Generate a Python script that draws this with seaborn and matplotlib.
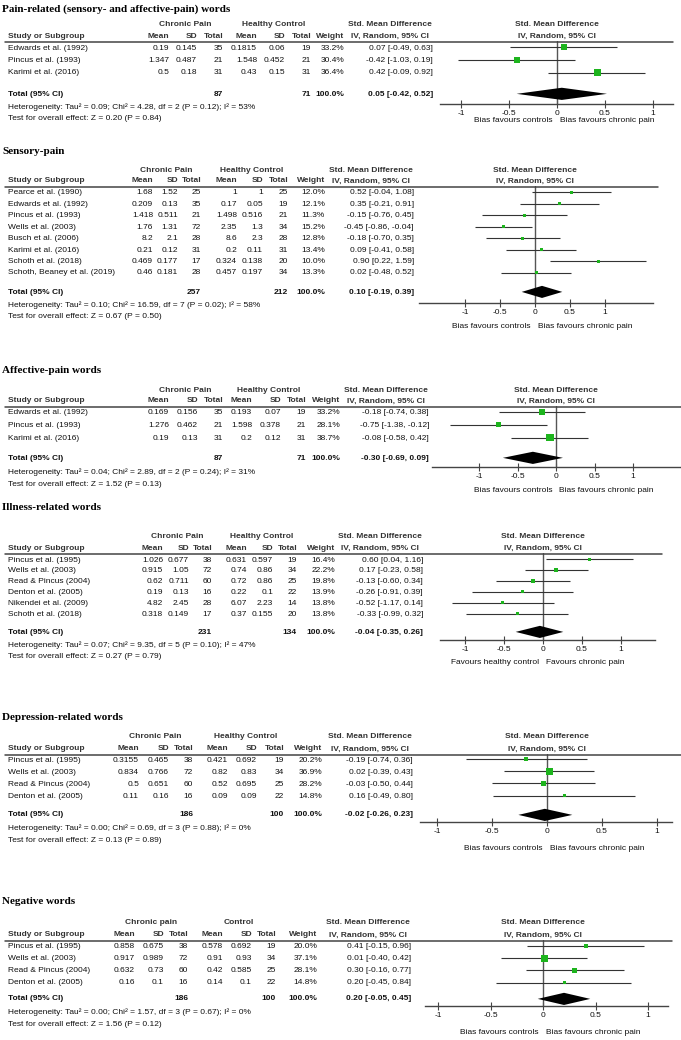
import numpy as np
import seaborn as sns
import matplotlib.pyplot as plt
from matplotlib.lines import Line2D

W, H = 681, 1040

# ---------------- data ----------------
# 1. pain-related words
PAIN_STUDY = ["Edwards et al. (1992)", "Pincus et al. (1993)", "Karimi et al. (2016)"]
PAIN_CP_MEAN = ["0.19", "1.347", "0.5"]
PAIN_CP_SD = ["0.145", "0.487", "0.18"]
PAIN_CP_N = [35, 21, 31]
PAIN_HC_MEAN = ["0.1815", "1.548", "0.43"]
PAIN_HC_SD = ["0.06", "0.452", "0.15"]
PAIN_HC_N = [19, 21, 31]
PAIN_WEIGHT = [33.2, 30.4, 36.4]
PAIN_SMD = [0.07, -0.42, 0.42]
PAIN_LO = [-0.49, -1.03, -0.09]
PAIN_HI = [0.63, 0.19, 0.92]
PAIN_TOTAL = [0.05, -0.42, 0.52]
PAIN_N_TOTAL = [87, 71]
PAIN_HET = "Heterogeneity: Tau\u00b2 = 0.09; Chi\u00b2 = 4.28, df = 2 (P = 0.12); I\u00b2 = 53%"
PAIN_TEST = "Test for overall effect: Z = 0.20 (P = 0.84)"

# 2. sensory-pain
SENS_STUDY = ["Pearce et al. (1990)", "Edwards et al. (1992)", "Pincus et al. (1993)",
              "Wells et al. (2003)", "Busch et al. (2006)", "Karimi et al. (2016)",
              "Schoth et al. (2018)", "Schoth, Beaney et al. (2019)"]
SENS_CP_MEAN = ["1.68", "0.209", "1.418", "1.76", "8.2", "0.21", "0.469", "0.46"]
SENS_CP_SD = ["1.52", "0.13", "0.511", "1.31", "2.1", "0.12", "0.177", "0.181"]
SENS_CP_N = [25, 35, 21, 72, 28, 31, 17, 28]
SENS_HC_MEAN = ["1", "0.17", "1.498", "2.35", "8.6", "0.2", "0.324", "0.457"]
SENS_HC_SD = ["1", "0.05", "0.516", "1.3", "2.3", "0.11", "0.138", "0.197"]
SENS_HC_N = [25, 19, 21, 34, 28, 31, 20, 34]
SENS_WEIGHT = [12.0, 12.1, 11.3, 15.2, 12.8, 13.4, 10.0, 13.3]
SENS_SMD = [0.52, 0.35, -0.15, -0.45, -0.18, 0.09, 0.90, 0.02]
SENS_LO = [-0.04, -0.21, -0.76, -0.86, -0.70, -0.41, 0.22, -0.48]
SENS_HI = [1.08, 0.91, 0.45, -0.04, 0.35, 0.58, 1.59, 0.52]
SENS_TOTAL = [0.10, -0.19, 0.39]
SENS_N_TOTAL = [257, 212]
SENS_HET = "Heterogeneity: Tau\u00b2 = 0.10; Chi\u00b2 = 16.59, df = 7 (P = 0.02); I\u00b2 = 58%"
SENS_TEST = "Test for overall effect: Z = 0.67 (P = 0.50)"

# 3. affective-pain words
AFF_STUDY = ["Edwards et al. (1992)", "Pincus et al. (1993)", "Karimi et al. (2016)"]
AFF_CP_MEAN = ["0.169", "1.276", "0.19"]
AFF_CP_SD = ["0.156", "0.462", "0.13"]
AFF_CP_N = [35, 21, 31]
AFF_HC_MEAN = ["0.193", "1.598", "0.2"]
AFF_HC_SD = ["0.07", "0.378", "0.12"]
AFF_HC_N = [19, 21, 31]
AFF_WEIGHT = [33.2, 28.1, 38.7]
AFF_SMD = [-0.18, -0.75, -0.08]
AFF_LO = [-0.74, -1.38, -0.58]
AFF_HI = [0.38, -0.12, 0.42]
AFF_TOTAL = [-0.30, -0.69, 0.09]
AFF_N_TOTAL = [87, 71]
AFF_HET = "Heterogeneity: Tau\u00b2 = 0.04; Chi\u00b2 = 2.89, df = 2 (P = 0.24); I\u00b2 = 31%"
AFF_TEST = "Test for overall effect: Z = 1.52 (P = 0.13)"

# 4. illness-related words
ILL_STUDY = ["Pincus et al. (1995)", "Wells et al. (2003)", "Read & Pincus (2004)",
             "Denton et al. (2005)", "Nikendei et al. (2009)", "Schoth et al. (2018)"]
ILL_CP_MEAN = ["1.026", "0.915", "0.62", "0.19", "4.82", "0.318"]
ILL_CP_SD = ["0.677", "1.05", "0.711", "0.13", "2.45", "0.149"]
ILL_CP_N = [38, 72, 60, 16, 28, 17]
ILL_HC_MEAN = ["0.631", "0.74", "0.72", "0.22", "6.07", "0.37"]
ILL_HC_SD = ["0.597", "0.86", "0.86", "0.1", "2.23", "0.155"]
ILL_HC_N = [19, 34, 25, 22, 14, 20]
ILL_WEIGHT = [16.4, 22.2, 19.8, 13.9, 13.8, 13.8]
ILL_SMD = [0.60, 0.17, -0.13, -0.26, -0.52, -0.33]
ILL_LO = [0.04, -0.23, -0.60, -0.91, -1.17, -0.99]
ILL_HI = [1.16, 0.58, 0.34, 0.39, 0.14, 0.32]
ILL_TOTAL = [-0.04, -0.35, 0.26]
ILL_N_TOTAL = [231, 134]
ILL_HET = "Heterogeneity: Tau\u00b2 = 0.07; Chi\u00b2 = 9.35, df = 5 (P = 0.10); I\u00b2 = 47%"
ILL_TEST = "Test for overall effect: Z = 0.27 (P = 0.79)"

# 5. depression-related words
DEP_STUDY = ["Pincus et al. (1995)", "Wells et al. (2003)", "Read & Pincus (2004)", "Denton et al. (2005)"]
DEP_CP_MEAN = ["0.3155", "0.834", "0.5", "0.11"]
DEP_CP_SD = ["0.465", "0.766", "0.651", "0.16"]
DEP_CP_N = [38, 72, 60, 16]
DEP_HC_MEAN = ["0.421", "0.82", "0.52", "0.09"]
DEP_HC_SD = ["0.692", "0.83", "0.695", "0.09"]
DEP_HC_N = [19, 34, 25, 22]
DEP_WEIGHT = [20.2, 36.9, 28.2, 14.8]
DEP_SMD = [-0.19, 0.02, -0.03, 0.16]
DEP_LO = [-0.74, -0.39, -0.50, -0.49]
DEP_HI = [0.36, 0.43, 0.44, 0.80]
DEP_TOTAL = [-0.02, -0.26, 0.23]
DEP_N_TOTAL = [186, 100]
DEP_HET = "Heterogeneity: Tau\u00b2 = 0.00; Chi\u00b2 = 0.69, df = 3 (P = 0.88); I\u00b2 = 0%"
DEP_TEST = "Test for overall effect: Z = 0.13 (P = 0.89)"

# 6. negative words
NEG_STUDY = ["Pincus et al. (1995)", "Wells et al. (2003)", "Read & Pincus (2004)", "Denton et al. (2005)"]
NEG_CP_MEAN = ["0.858", "0.917", "0.632", "0.16"]
NEG_CP_SD = ["0.675", "0.989", "0.73", "0.1"]
NEG_CP_N = [38, 72, 60, 16]
NEG_HC_MEAN = ["0.578", "0.91", "0.42", "0.14"]
NEG_HC_SD = ["0.692", "0.93", "0.585", "0.1"]
NEG_HC_N = [19, 34, 25, 22]
NEG_WEIGHT = [20.0, 37.1, 28.1, 14.8]
NEG_SMD = [0.41, 0.01, 0.30, 0.20]
NEG_LO = [-0.15, -0.40, -0.16, -0.45]
NEG_HI = [0.96, 0.42, 0.77, 0.84]
NEG_TOTAL = [0.20, -0.05, 0.45]
NEG_N_TOTAL = [186, 100]
NEG_HET = "Heterogeneity: Tau\u00b2 = 0.00; Chi\u00b2 = 1.57, df = 3 (P = 0.67); I\u00b2 = 0%"
NEG_TEST = "Test for overall effect: Z = 1.56 (P = 0.12)"

TICKS = [-1, -0.5, 0, 0.5, 1]
TICK_LABELS = ["-1", "-0.5", "0", "0.5", "1"]

# ---------------- panels ----------------
def make_panel(title, groups, favours, study, cpm, cpsd, cpn, hcm, hcsd, hcn, wt, smd, lo, hi, tot, ntot, het, test):
    return dict(title=title, groups=groups, favours=favours, study=study,
                cols=[cpm, cpsd, cpn, hcm, hcsd, hcn], weight=wt, smd=smd, lo=lo, hi=hi,
                total=tot, ntot=ntot, het=het, test=test)

BIAS = ("Bias favours controls", "Bias favours chronic pain")
panels = [
    make_panel("Pain-related (sensory- and affective-pain) words", ("Chronic Pain", "Healthy Control"), BIAS,
               PAIN_STUDY, PAIN_CP_MEAN, PAIN_CP_SD, PAIN_CP_N, PAIN_HC_MEAN, PAIN_HC_SD, PAIN_HC_N,
               PAIN_WEIGHT, PAIN_SMD, PAIN_LO, PAIN_HI, PAIN_TOTAL, PAIN_N_TOTAL, PAIN_HET, PAIN_TEST),
    make_panel("Sensory-pain", ("Chronic Pain", "Healthy Control"), BIAS,
               SENS_STUDY, SENS_CP_MEAN, SENS_CP_SD, SENS_CP_N, SENS_HC_MEAN, SENS_HC_SD, SENS_HC_N,
               SENS_WEIGHT, SENS_SMD, SENS_LO, SENS_HI, SENS_TOTAL, SENS_N_TOTAL, SENS_HET, SENS_TEST),
    make_panel("Affective-pain words", ("Chronic Pain", "Healthy Control"), BIAS,
               AFF_STUDY, AFF_CP_MEAN, AFF_CP_SD, AFF_CP_N, AFF_HC_MEAN, AFF_HC_SD, AFF_HC_N,
               AFF_WEIGHT, AFF_SMD, AFF_LO, AFF_HI, AFF_TOTAL, AFF_N_TOTAL, AFF_HET, AFF_TEST),
    make_panel("Illness-related words", ("Chronic Pain", "Healthy Control"),
               ("Favours healthy control", "Favours chronic pain"),
               ILL_STUDY, ILL_CP_MEAN, ILL_CP_SD, ILL_CP_N, ILL_HC_MEAN, ILL_HC_SD, ILL_HC_N,
               ILL_WEIGHT, ILL_SMD, ILL_LO, ILL_HI, ILL_TOTAL, ILL_N_TOTAL, ILL_HET, ILL_TEST),
    make_panel("Depression-related words", ("Chronic Pain", "Healthy Control"), BIAS,
               DEP_STUDY, DEP_CP_MEAN, DEP_CP_SD, DEP_CP_N, DEP_HC_MEAN, DEP_HC_SD, DEP_HC_N,
               DEP_WEIGHT, DEP_SMD, DEP_LO, DEP_HI, DEP_TOTAL, DEP_N_TOTAL, DEP_HET, DEP_TEST),
    make_panel("Negative words", ("Chronic pain", "Control"), BIAS,
               NEG_STUDY, NEG_CP_MEAN, NEG_CP_SD, NEG_CP_N, NEG_HC_MEAN, NEG_HC_SD, NEG_HC_N,
               NEG_WEIGHT, NEG_SMD, NEG_LO, NEG_HI, NEG_TOTAL, NEG_N_TOTAL, NEG_HET, NEG_TEST),
]

# layout in pixels (y from top); cols are right edges of the six numeric columns
layouts = [
    dict(title=9, group=25, head=36, rule=41, row0=48, step=12.5, total=94, het=107, test=119,
         axis=104, fav=121, cols=[169, 197, 223, 257, 285, 311], weight=344, smd=433,
         zero=557, scale=96, ax_x=(440, 673), rule_r=673),
    dict(title=152, group=170, head=181, rule=186, row0=193, step=11.4, total=292, het=305, test=317,
         axis=303, fav=327, cols=[153, 178, 201, 237, 263, 288], weight=325, smd=414,
         zero=535, scale=70, ax_x=(419, 653), rule_r=658),
    dict(title=370, group=390, head=401, rule=406, row0=413, step=12.5, total=458, het=472, test=485,
         axis=467, fav=490, cols=[169, 198, 223, 252, 281, 306], weight=340, smd=429,
         zero=556, scale=77, ax_x=(432, 681), rule_r=681),
    dict(title=508, group=537, head=548, rule=553, row0=560, step=10.8, total=632, het=645, test=657,
         axis=640, fav=663, cols=[163, 189, 212, 247, 273, 297], weight=335, smd=423,
         zero=543, scale=78, ax_x=(440, 655), rule_r=662),
    dict(title=717, group=737, head=749, rule=754, row0=760, step=12, total=815, het=828, test=840,
         axis=822, fav=848, cols=[139, 169, 193, 228, 257, 284], weight=322, smd=413,
         zero=547, scale=110, ax_x=(420, 672), rule_r=681),
    dict(title=902, group=923, head=935, rule=940, row0=947, step=12, total=999, het=1012, test=1024,
         axis=1006, fav=1032, cols=[135, 164, 188, 223, 252, 276], weight=317, smd=411,
         zero=543, scale=105, ax_x=(425, 668), rule_r=672),
]

GREEN = "#1db41d"
TXT = "#111111"
HEAD = "#333333"
FS = 6.0

sns.set_theme(style="white")
plt.rcParams["font.family"] = ["Liberation Sans", "DejaVu Sans"]

fig = plt.figure(figsize=(W / 100, H / 100), dpi=100)


def fx(x):
    return x / W


def fy(y):
    return 1 - y / H


def put(x, y, s, ha="right", bold=False, color=TXT, size=FS):
    fig.text(fx(x), fy(y), s, ha=ha, va="center", fontsize=size, color=color,
             fontweight="bold" if bold else "normal")


for p, L in zip(panels, layouts):
    # title
    fig.text(fx(2), fy(L["title"]), p["title"], ha="left", va="center", fontsize=8,
             family=["Liberation Serif", "DejaVu Serif"], fontweight="bold", color="black")

    c = L["cols"]
    # group headers
    put((c[0] - 21 + c[2]) / 2, L["group"], p["groups"][0], ha="center", bold=True, color=HEAD)
    put((c[3] - 21 + c[5]) / 2, L["group"], p["groups"][1], ha="center", bold=True, color=HEAD)
    put(L["smd"] - 43, L["group"], "Std. Mean Difference", ha="center", bold=True, color=HEAD)
    put(L["zero"], L["group"], "Std. Mean Difference", ha="center", bold=True, color=HEAD)
    # column headers
    put(8, L["head"], "Study or Subgroup", ha="left", bold=True, color=HEAD)
    for x, s in zip(c, ["Mean", "SD", "Total", "Mean", "SD", "Total"]):
        put(x, L["head"], s, bold=True, color=HEAD)
    put(L["weight"], L["head"], "Weight", bold=True, color=HEAD)
    put(L["smd"] - 43, L["head"], "IV, Random, 95% CI", ha="center", bold=True, color=HEAD)
    put(L["zero"], L["head"], "IV, Random, 95% CI", ha="center", bold=True, color=HEAD)
    fig.add_artist(Line2D([fx(5), fx(L["rule_r"])], [fy(L["rule"] + 0.5)] * 2, color="#444444", lw=1.1))

    # study rows
    n = len(p["study"])
    for i in range(n):
        y = L["row0"] + i * L["step"]
        put(8, y, p["study"][i], ha="left")
        for x, col in zip(c, p["cols"]):
            put(x, y, str(col[i]))
        put(L["weight"], y, f"{p['weight'][i]:.1f}%")
        put(L["smd"], y, f"{p['smd'][i]:.2f} [{p['lo'][i]:.2f}, {p['hi'][i]:.2f}]")

    # total row
    t = p["total"]
    put(8, L["total"], "Total (95% CI)", ha="left", bold=True)
    put(c[2], L["total"], str(p["ntot"][0]), bold=True)
    put(c[5], L["total"], str(p["ntot"][1]), bold=True)
    put(L["weight"], L["total"], "100.0%", bold=True)
    put(L["smd"], L["total"], f"{t[0]:.2f} [{t[1]:.2f}, {t[2]:.2f}]", bold=True)
    put(8, L["het"], p["het"], ha="left")
    put(8, L["test"], p["test"], ha="left")

    # forest plot
    x0, x1 = L["ax_x"]
    ax = fig.add_axes([fx(x0), fy(L["axis"]), (x1 - x0) / W, (L["axis"] - L["rule"]) / H])
    ax.patch.set_alpha(0)
    ax.set_xlim((x0 - L["zero"]) / L["scale"], (x1 - L["zero"]) / L["scale"])
    ax.set_ylim((L["axis"] - L["row0"]) / L["step"], (L["rule"] + 1 - L["row0"]) / L["step"])
    rows = np.arange(n)
    ax.axvline(0, color="#555555", lw=1.0, zorder=1)
    ax.hlines(rows, p["lo"], p["hi"], color="#333333", lw=0.8, zorder=2)
    # square side grows with the study weight
    side_pt = np.maximum(np.array(p["weight"]) * 0.19, 3.0) * 0.72
    sns.scatterplot(x=p["smd"], y=rows, marker="s", s=side_pt ** 2, color=GREEN,
                    linewidth=0, legend=False, ax=ax, zorder=3)
    yt = (L["total"] - L["row0"]) / L["step"]
    hh = 6 / L["step"]
    ax.fill([t[1], t[0], t[2], t[0]], [yt, yt - hh, yt, yt + hh], color="black", lw=0, zorder=3)
    for s in ["top", "left", "right"]:
        ax.spines[s].set_visible(False)
    ax.spines["bottom"].set_color("#444444")
    ax.spines["bottom"].set_linewidth(1.0)
    ax.set_xticks(TICKS)
    ax.set_xticklabels(TICK_LABELS)
    ax.set_yticks([])
    ax.tick_params(axis="x", bottom=True, direction="inout", length=6, width=0.8,
                   color="#444444", labelsize=FS, labelcolor=TXT, pad=1)
    ax.grid(False)

    put(L["zero"] - 4, L["fav"], p["favours"][0])
    put(L["zero"] + 3, L["fav"], p["favours"][1], ha="left")

fig.savefig("out.png", dpi=100)
